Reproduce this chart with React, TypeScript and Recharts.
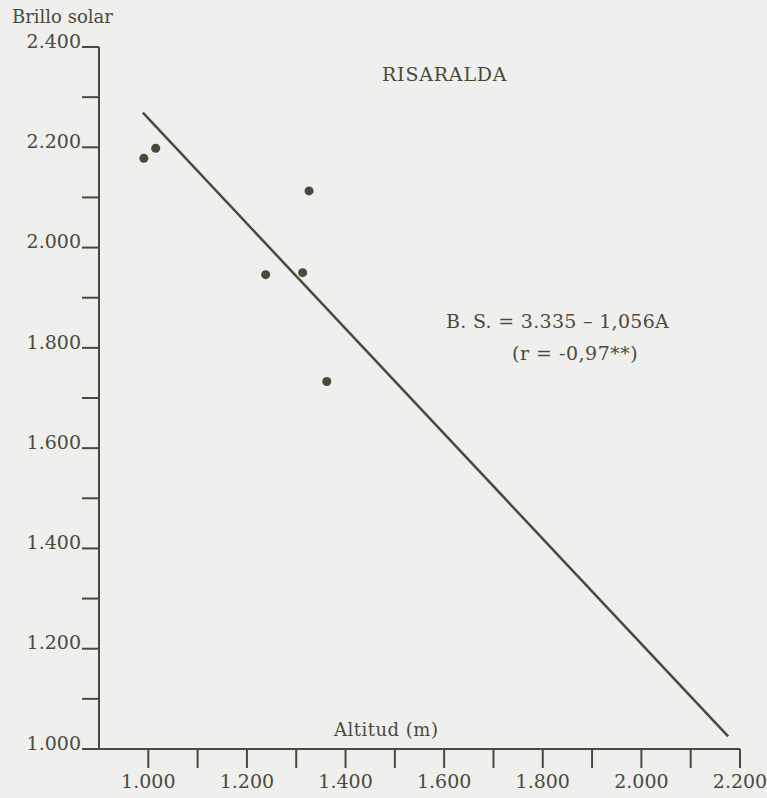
import { Scatter, ScatterChart, XAxis, YAxis } from "recharts";

// Brillo solar vs altitud, Risaralda.
const altitud = [991, 1015, 1326, 1238, 1313, 1362];
const brillo = [2178, 2198, 2113, 1946, 1950, 1733];

// regression line endpoints as drawn (B.S. = 3.335 - 1,056A)
const lineAltitud = [989, 2176];
const lineBrillo = [2269, 1025];

const xTicks = [1000, 1100, 1200, 1300, 1400, 1500, 1600, 1700, 1800, 1900, 2000, 2100, 2200];
const yTicks = [1000, 1100, 1200, 1300, 1400, 1500, 1600, 1700, 1800, 1900, 2000, 2100, 2200, 2300, 2400];

const ink = "#4a4a3b";
const font = "'DejaVu Serif', serif";

const points = altitud.map((a, i) => ({ x: a, y: brillo[i] }));
const fit = lineAltitud.map((a, i) => ({ x: a, y: lineBrillo[i] }));

// only every second tick gets a label, Spanish thousands separator
const fmt = (v: number) => (v % 200 === 0 ? (v / 1000).toFixed(3) : "");

const txt = (left: number, top: number, size = 18, spacing = 0): React.CSSProperties => ({
  position: "absolute",
  left,
  top,
  fontFamily: font,
  fontSize: size,
  letterSpacing: spacing,
  color: ink,
  whiteSpace: "nowrap",
  lineHeight: 1,
});

export default function App() {
  return (
    <div style={{ position: "absolute", left: 0, top: 0, width: 767, height: 798, background: "#efefed" }}>
      <ScatterChart width={767} height={798} margin={{ top: 47, right: 27, bottom: 0, left: 0 }}>
        <XAxis
          type="number"
          dataKey="x"
          domain={[900, 2200]}
          ticks={xTicks}
          tickFormatter={fmt}
          interval={0}
          height={49}
          tickSize={19}
          tickMargin={7}
          stroke={ink}
          strokeWidth={2}
          tick={{ fill: ink, fontFamily: font, fontSize: 19 }}
        />
        <YAxis
          type="number"
          dataKey="y"
          domain={[1000, 2400]}
          ticks={yTicks}
          tickFormatter={fmt}
          interval={0}
          width={99}
          tickSize={17}
          tickMargin={1}
          stroke={ink}
          strokeWidth={2}
          tick={{ fill: ink, fontFamily: font, fontSize: 19, dy: -6 }}
        />
        <Scatter
          data={fit}
          line={{ stroke: ink, strokeWidth: 2.5 }}
          shape={() => <g />}
          isAnimationActive={false}
        />
        <Scatter data={points} fill={ink} shape="circle" isAnimationActive={false} />
      </ScatterChart>
      <div style={txt(12, 8, 18)}>Brillo solar</div>
      <div style={txt(382, 65, 19, 0.8)}>RISARALDA</div>
      <div style={txt(446, 312, 19, 0.3)}>B. S. = 3.335 – 1,056A</div>
      <div style={txt(512, 344, 19, 0.5)}>(r = -0,97**)</div>
      <div style={txt(334, 721, 18, 0.5)}>Altitud (m)</div>
    </div>
  );
}
